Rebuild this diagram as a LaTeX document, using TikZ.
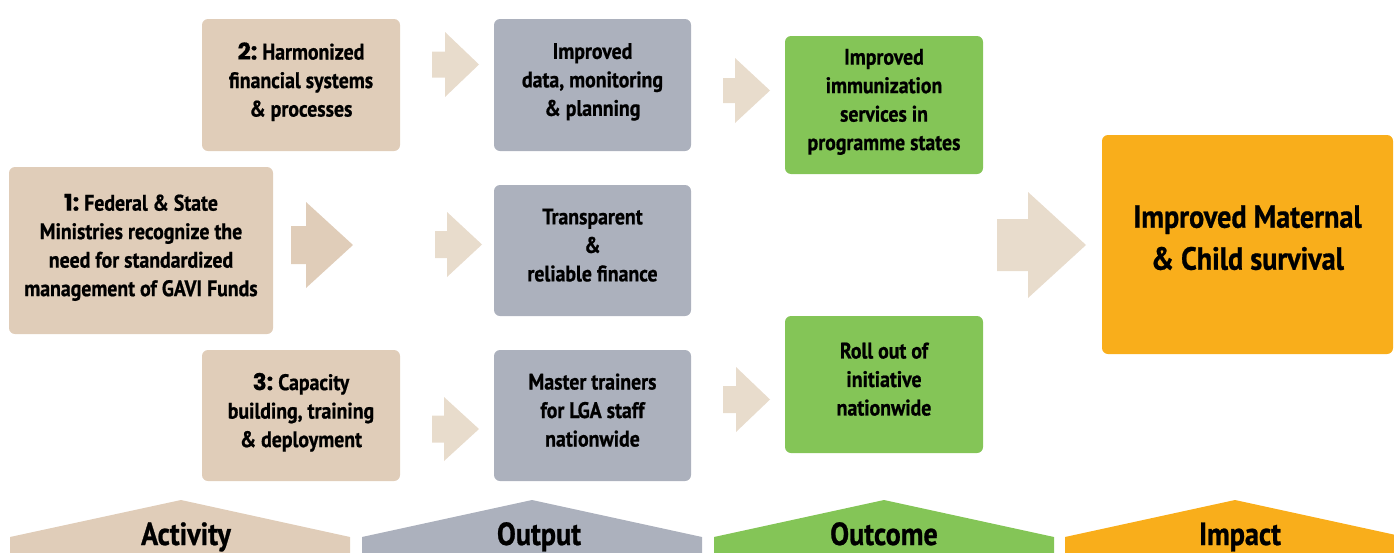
\documentclass[tikz,border=0pt]{standalone}
\usepackage{fontspec}
\setmainfont{PT Sans}[FakeStretch=0.88, BoldFeatures={FakeBold=0.8}]
\newfontfamily\numfont{Poppins}[BoldFeatures={FakeBold=0.8}]
\definecolor{actbg}{HTML}{E0CDB9}
\definecolor{arrowbg}{HTML}{E8DCCC}
\definecolor{outbg}{HTML}{ACB1BD}
\definecolor{outcbg}{HTML}{84C557}
\definecolor{impbg}{HTML}{F9AE1B}
\newcommand\stepno[1]{{\numfont\bfseries\fontsize{23}{28.5}\selectfont #1:}\ }
% block arrow: start x, centre y, head x, tip x, half head, half shaft, colour
\newcommand\fatarrow[7]{\fill[#7] (#1,#2-#6) -- (#3,#2-#6) -- (#3,#2-#5) -- (#4,#2)
  -- (#3,#2+#5) -- (#3,#2+#6) -- (#1,#2+#6) -- cycle;}
\tikzset{
  box/.style={rounded corners=6pt, align=center, inner sep=0pt, text depth=11pt,
    font=\bfseries\fontsize{22.5}{28.5}\selectfont},
  actbox/.style={box, fill=actbg},
  outbox/.style={box, fill=outbg},
  outcbox/.style={box, fill=outcbg},
  impbox/.style={box, fill=impbg, text depth=14pt,
    font=\bfseries\fontsize{32}{42}\selectfont},
  headlabel/.style={anchor=base, font=\bfseries\fontsize{32}{36}\selectfont}
}
\begin{document}
\begin{tikzpicture}[x=1pt,y=-1pt]
      \useasboundingbox (0,0) rectangle (1394,552);
      \clip (0,0) rectangle (1394,552);
      % activities
      \path (301,85) node[actbox, minimum width=198, minimum height=132] (act2)
        {\stepno{2}Harmonized\\financial systems\\\& processes};
      \path (141,250.5) node[actbox, minimum width=264, minimum height=167] (act1)
        {\stepno{1}Federal \& State\\Ministries recognize the\\need for standardized\\management of GAVI Funds};
      \path (301,415.5) node[actbox, minimum width=198, minimum height=131] (act3)
        {\stepno{3}Capacity\\building, training\\\& deployment};
      % outputs
      \path (592.5,85) node[outbox, minimum width=197, minimum height=132] (out1)
        {Improved\\data, monitoring\\\& planning};
      \path (592.5,250.5) node[outbox, minimum width=197, minimum height=131] (out2)
        {Transparent\\\&\\reliable finance};
      \path (592.5,415.5) node[outbox, minimum width=197, minimum height=131] (out3)
        {Master trainers\\for LGA staff\\nationwide};
      % outcomes
      \path (884,105) node[outcbox, minimum width=198, minimum height=138] (outc1)
        {Improved\\immunization\\services in\\programme states};
      \path (884,384.5) node[outcbox, minimum width=198, minimum height=137] (outc2)
        {Roll out of\\initiative\\nationwide};
      % impact
      \path (1247.5,244.5) node[impbox, minimum width=291, minimum height=219] (imp)
        {Improved Maternal\\\& Child survival};
      % arrows
      \fatarrow{432}{64.5}{445}{479}{32.5}{13}{arrowbg}
      \fatarrow{291}{245}{306}{353}{43}{19}{actbg}
      \fatarrow{435}{244.5}{447}{482}{32.5}{13.5}{arrowbg}
      \fatarrow{432}{429}{444}{479}{32}{13.5}{arrowbg}
      \fatarrow{723}{90.5}{735}{770}{32.5}{12.5}{arrowbg}
      \fatarrow{723}{399.5}{736}{770}{32.5}{13.5}{arrowbg}
      \fatarrow{997}{245}{1028}{1086}{53}{26}{arrowbg}
      % column heads
      \fill[actbg] (10,560) -- (10,537) -- (181,500) -- (350,537) -- (350,560) -- cycle;
      \fill[outbg] (362,560) -- (362,537) -- (532,500) -- (702,537) -- (702,560) -- cycle;
      \fill[outcbg] (714,560) -- (714,537) -- (884,500) -- (1054,537) -- (1054,560) -- cycle;
      \fill[impbg] (1065,560) -- (1065,537) -- (1235,500) -- (1405,537) -- (1405,560) -- cycle;
      \path (186,545) node[headlabel] (hact) {Activity};
      \path (539,545) node[headlabel] (hout) {Output};
      \path (884,545) node[headlabel] (houtc) {Outcome};
      \path (1240,545) node[headlabel] (himp) {Impact};
\end{tikzpicture}
\end{document}
